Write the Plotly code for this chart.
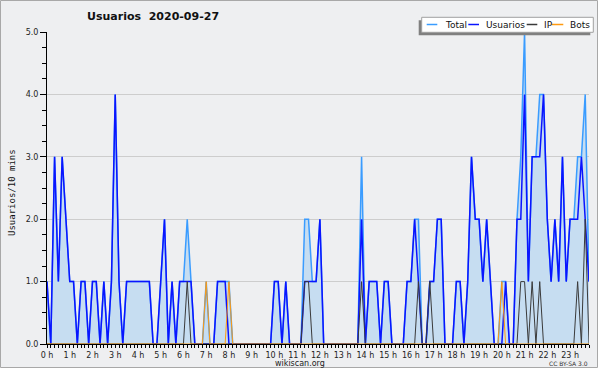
import plotly.graph_objects as go

# 10-minute slots over the day (index 0 = 00:00, 143 = 23:50)
slots = list(range(144))
hour_ticks = list(range(0, 144, 6))
hour_labels = [f"{h} h" for h in range(24)]

total = [1,0,3,1,3,2,1,1,0,1,1,0,
         1,1,0,1,0,1,4,1,0,1,1,1,
         1,1,1,1,0,0,1,2,0,1,0,1,
         1,2,1,0,0,0,1,0,0,1,1,1,
         1,0,0,0,0,0,0,0,0,0,0,0,
         1,1,0,1,0,0,0,0,2,2,1,1,
         2,0,0,0,0,0,0,0,0,0,0,3,
         0,1,1,1,0,1,1,0,0,0,0,1,
         1,2,2,0,0,1,1,2,2,0,0,0,
         1,1,0,1,3,2,2,1,2,1,0,0,
         1,1,0,0,2,3,5,1,3,3,4,4,
         2,1,2,1,3,1,2,2,3,3,4,1]

usuarios = [1,0,3,1,3,2,1,1,0,1,1,0,
            1,1,0,1,0,1,4,1,0,1,1,1,
            1,1,1,1,0,0,1,2,0,1,0,1,
            1,1,1,0,0,0,0,0,0,1,1,1,
            0,0,0,0,0,0,0,0,0,0,0,0,
            1,1,0,1,0,0,0,0,1,1,1,1,
            2,0,0,0,0,0,0,0,0,0,0,2,
            0,1,1,1,0,1,1,0,0,0,0,1,
            1,2,1,0,0,1,1,2,2,0,0,0,
            1,1,0,1,3,2,2,1,2,1,0,0,
            0,1,0,0,2,2,4,1,3,3,3,4,
            2,1,2,1,3,1,2,2,2,3,2,1]

ip = [0,0,0,0,0,0,0,0,0,0,0,0,
      0,0,0,0,0,0,0,0,0,0,0,0,
      0,0,0,0,0,0,0,0,0,0,0,0,
      0,1,0,0,0,0,0,0,0,0,0,0,
      0,0,0,0,0,0,0,0,0,0,0,0,
      0,0,0,0,0,0,0,0,1,1,0,0,
      0,0,0,0,0,0,0,0,0,0,0,1,
      0,0,0,0,0,0,0,0,0,0,0,0,
      0,0,1,0,0,1,0,0,0,0,0,0,
      0,0,0,0,0,0,0,0,0,0,0,0,
      0,0,0,0,0,1,1,0,1,0,1,0,
      0,0,0,0,0,0,0,0,1,0,2,0]

bots = [0,0,0,0,0,0,0,0,0,0,0,0,
        0,0,0,0,0,0,0,0,0,0,0,0,
        0,0,0,0,0,0,0,0,0,0,0,0,
        0,0,0,0,0,0,1,0,0,0,0,0,
        1,0,0,0,0,0,0,0,0,0,0,0,
        0,0,0,0,0,0,0,0,0,0,0,0,
        0,0,0,0,0,0,0,0,0,0,0,0,
        0,0,0,0,0,0,0,0,0,0,0,0,
        0,0,0,0,0,0,0,0,0,0,0,0,
        0,0,0,0,0,0,0,0,0,0,0,0,
        1,0,0,0,0,0,0,0,0,0,0,0,
        0,0,0,0,0,0,0,0,0,0,0,0]

series_names = ["Total", "Usuarios", "IP", "Bots"]
series_colors = ["#3a9cff", "#0a14ff", "#3a3a3a", "#ff9a10"]

W, H = 600, 370
ML, MR, MT, MB = 47, 11, 32, 26
PW, PH = W - ML - MR, H - MT - MB


def px(x):
    return (x - ML) / PW


def py(y):
    return (H - MB - y) / PH


fig = go.Figure()
fig.add_trace(go.Scatter(x=slots, y=total, mode="lines", name=series_names[0],
                         line=dict(color=series_colors[0], width=1.5),
                         fill="tozeroy", fillcolor="#c6ddf1"))
fig.add_trace(go.Scatter(x=slots, y=usuarios, mode="lines", name=series_names[1],
                         line=dict(color=series_colors[1], width=1.5)))
fig.add_trace(go.Scatter(x=slots, y=ip, mode="lines", name=series_names[2],
                         line=dict(color=series_colors[2], width=1)))
fig.add_trace(go.Scatter(x=slots, y=bots, mode="lines", name=series_names[3],
                         line=dict(color=series_colors[3], width=1)))

shapes = [
    # outer frame / background
    dict(type="rect", xref="paper", yref="paper", layer="below",
         x0=px(0.5), x1=px(597.5), y0=py(367.5), y1=py(0.5),
         fillcolor="#eeeff1", line=dict(color="#a8a8a8", width=1)),
    # legend shadow + box
    dict(type="rect", xref="paper", yref="paper",
         x0=px(418.7), x1=px(590.3), y0=py(35.3), y1=py(20.3),
         fillcolor="#808080", line=dict(width=0)),
    dict(type="rect", xref="paper", yref="paper",
         x0=px(421.7), x1=px(593.3), y0=py(32.3), y1=py(17.3),
         fillcolor="white", line=dict(color="#a0a0a0", width=1)),
]
legend_items = [(426.7, 437.3, 442.7), (468.3, 479.0, 484.3),
                (526.7, 537.3, 541.7), (551.7, 563.3, 568.3)]
annotations = []
for (l0, l1, tx), name, col in zip(legend_items, series_names, series_colors):
    shapes.append(dict(type="line", xref="paper", yref="paper",
                       x0=px(l0), x1=px(l1), y0=py(24.5), y1=py(24.5),
                       line=dict(color=col, width=1.5)))
    annotations.append(dict(text=name, xref="paper", yref="paper",
                            x=px(tx), y=py(24.5), xanchor="left", yanchor="middle",
                            showarrow=False,
                            font=dict(family="DejaVu Sans", size=9, color="#111")))

annotations += [
    dict(text="Usuarios\u00a0\u00a02020-09-27", xref="paper", yref="paper",
         x=px(85), y=py(17), xanchor="left", yanchor="middle", showarrow=False,
         font=dict(family="DejaVu Sans", size=11, color="#111", weight="bold")),
    dict(text="Usuarios/10 mins", xref="paper", yref="paper", textangle=-90,
         x=px(12), y=py(193), xanchor="center", yanchor="middle", showarrow=False,
         font=dict(family="DejaVu Sans Mono", size=9, color="#111")),
    dict(text="wikiscan.org", xref="paper", yref="paper",
         x=px(300), y=py(363.5), xanchor="center", yanchor="middle", showarrow=False,
         font=dict(family="DejaVu Sans", size=8, color="#222")),
    dict(text="CC BY-SA 3.0", xref="paper", yref="paper",
         x=px(590), y=py(363), xanchor="right", yanchor="middle", showarrow=False,
         font=dict(family="DejaVu Sans", size=6, color="#333")),
]

fig.update_layout(
    width=W, height=H,
    margin=dict(l=ML, r=MR, t=MT, b=MB),
    paper_bgcolor="white", plot_bgcolor="rgba(0,0,0,0)",
    showlegend=False,
    shapes=shapes, annotations=annotations,
    xaxis=dict(range=[0, 143], tickmode="array", tickvals=hour_ticks, ticktext=hour_labels,
               showgrid=False, zeroline=False, showline=True, linecolor="black", linewidth=1,
               ticks="outside", ticklen=3, tickcolor="black",
               tickfont=dict(family="DejaVu Sans", size=8, color="#222"),
               minor=dict(tick0=0, dtick=1, ticks="outside", ticklen=3, tickcolor="black")),
    yaxis=dict(range=[0, 5], tickmode="array", tickvals=[0, 1, 2, 3, 4, 5],
               tickformat=".1f", showgrid=True, gridcolor="#cdcdcd", gridwidth=1,
               zeroline=False, showline=True, linecolor="black", linewidth=1,
               ticks="outside", ticklen=6, tickcolor="black",
               tickfont=dict(family="DejaVu Sans", size=8, color="#222"),
               minor=dict(tick0=0, dtick=0.25, ticks="outside", ticklen=4, tickcolor="black",
                          showgrid=False)),
)

fig.write_html("out.html")
